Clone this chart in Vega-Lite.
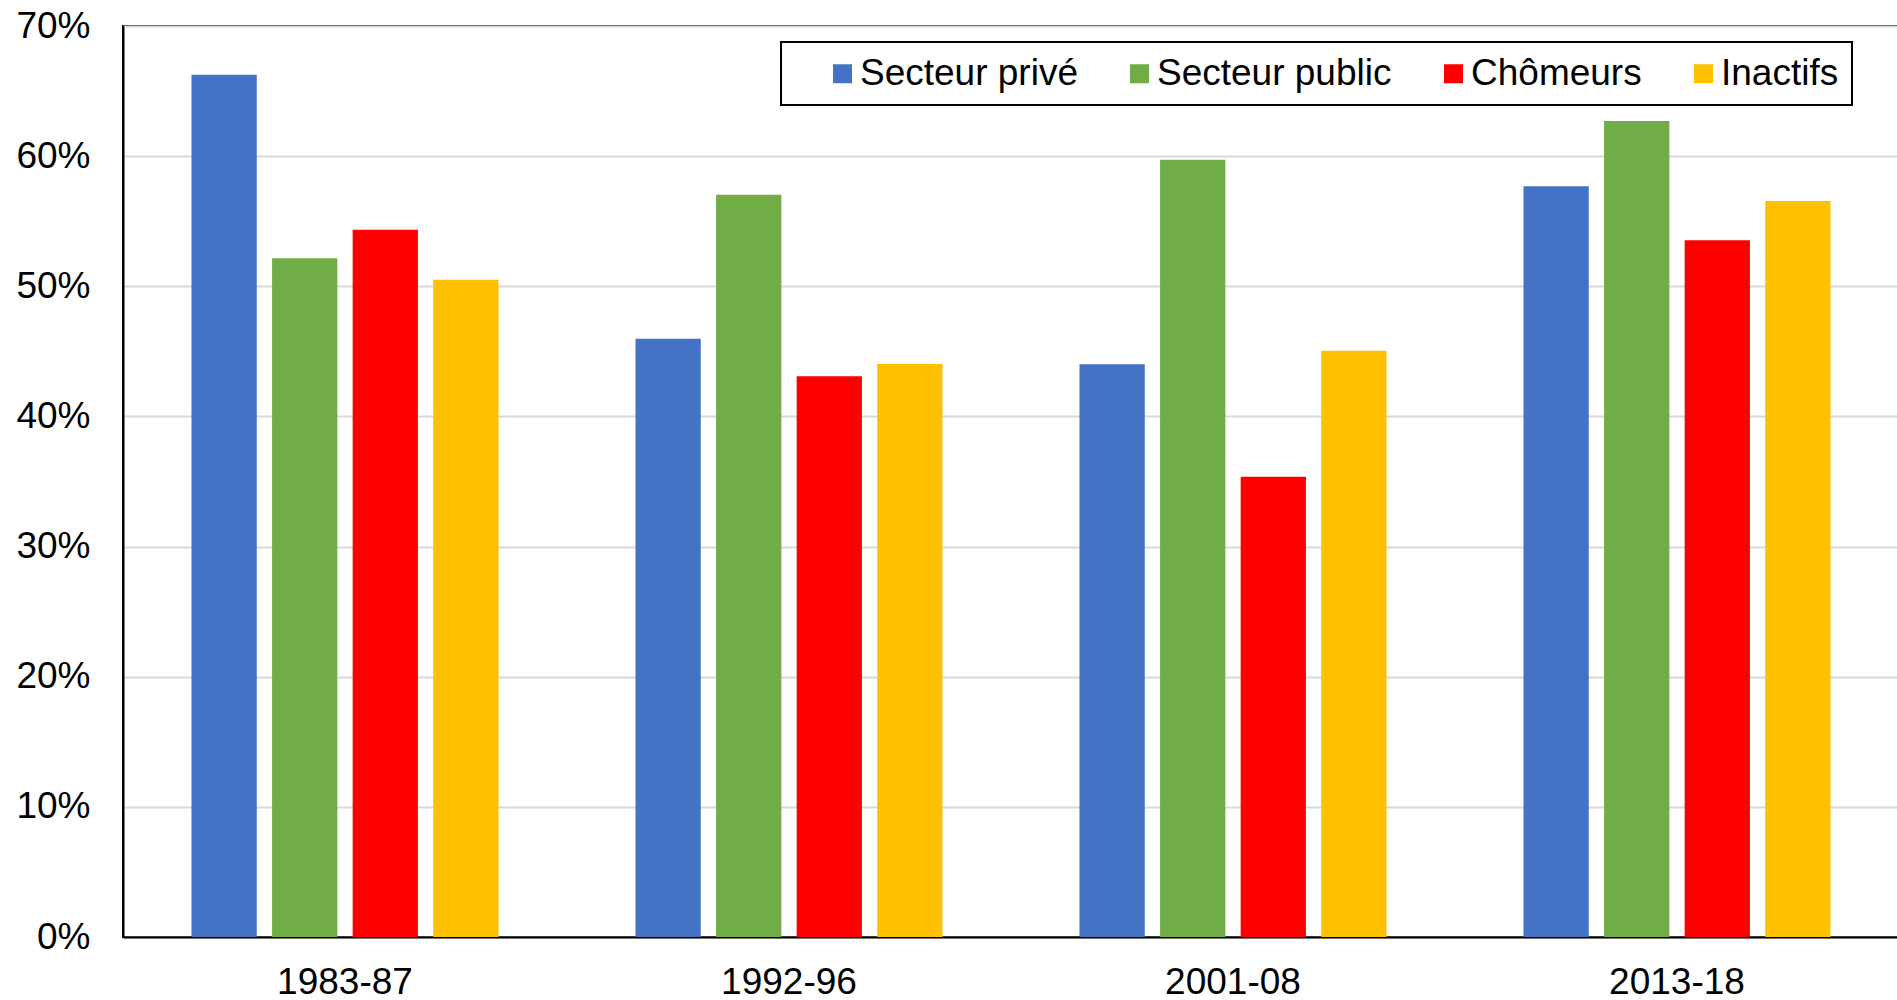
{
  "$schema": "https://vega.github.io/schema/vega-lite/v6.json",
  "width": 1776,
  "height": 911,
  "autosize": {"type": "none"},
  "padding": {"left": 123, "top": 26, "right": 0, "bottom": 63},
  "background": "white",
  "config": {
    "view": {"stroke": "black", "strokeWidth": 2},
    "font": "Liberation Sans",
    "legend": {"strokeWidth": 2}
  },
  "data": {
    "values": [
      {"period": "1983-87", "cat": "Secteur privé", "value": 0.6626},
      {"period": "1983-87", "cat": "Secteur public", "value": 0.5215},
      {"period": "1983-87", "cat": "Chômeurs", "value": 0.5435},
      {"period": "1983-87", "cat": "Inactifs", "value": 0.505},
      {"period": "1992-96", "cat": "Secteur privé", "value": 0.4597},
      {"period": "1992-96", "cat": "Secteur public", "value": 0.5703},
      {"period": "1992-96", "cat": "Chômeurs", "value": 0.4309},
      {"period": "1992-96", "cat": "Inactifs", "value": 0.4402},
      {"period": "2001-08", "cat": "Secteur privé", "value": 0.44},
      {"period": "2001-08", "cat": "Secteur public", "value": 0.5973},
      {"period": "2001-08", "cat": "Chômeurs", "value": 0.3537},
      {"period": "2001-08", "cat": "Inactifs", "value": 0.4504},
      {"period": "2013-18", "cat": "Secteur privé", "value": 0.5768},
      {"period": "2013-18", "cat": "Secteur public", "value": 0.627},
      {"period": "2013-18", "cat": "Chômeurs", "value": 0.5353},
      {"period": "2013-18", "cat": "Inactifs", "value": 0.5655}
    ]
  },
  "mark": {"type": "bar"},
  "encoding": {
    "x": {
      "field": "period",
      "type": "nominal",
      "sort": ["1983-87", "1992-96", "2001-08", "2013-18"],
      "scale": {"paddingInner": 0, "paddingOuter": 0},
      "axis": {
        "title": null,
        "labelAngle": 0,
        "labelFontSize": 37,
        "labelColor": "black",
        "labelPadding": 27,
        "ticks": false,
        "domainColor": "black",
        "domainWidth": 2,
        "grid": false
      }
    },
    "xOffset": {
      "field": "cat",
      "type": "nominal",
      "sort": ["Secteur privé", "Secteur public", "Chômeurs", "Inactifs"],
      "scale": {"paddingInner": 0.19, "paddingOuter": 0.85}
    },
    "y": {
      "field": "value",
      "type": "quantitative",
      "scale": {"domain": [0, 0.7], "nice": false},
      "axis": {
        "title": null,
        "format": ".0%",
        "values": [0, 0.1, 0.2, 0.3, 0.4, 0.5, 0.6, 0.7],
        "labelFontSize": 37,
        "labelColor": "black",
        "labelPadding": 33,
        "ticks": false,
        "domainColor": "black",
        "domainWidth": 2,
        "gridColor": "#d9d9d9",
        "gridWidth": 2
      }
    },
    "color": {
      "field": "cat",
      "type": "nominal",
      "scale": {
        "domain": ["Secteur privé", "Secteur public", "Chômeurs", "Inactifs"],
        "range": ["#4472C4", "#70AD47", "#FF0000", "#FFC000"]
      },
      "legend": {
        "orient": "none",
        "legendX": 658,
        "legendY": 16,
        "direction": "horizontal",
        "title": " ",
        "titleOrient": "left",
        "titleFontSize": 37,
        "titlePadding": 30,
        "padding": 13,
        "strokeColor": "black",
        "fillColor": "white",
        "symbolType": "square",
        "symbolSize": 361,
        "symbolStrokeWidth": 0,
        "symbolOpacity": 1,
        "labelFontSize": 37,
        "labelColor": "black",
        "labelLimit": 500,
        "labelOffset": -1,
        "columnPadding": 43
      }
    }
  }
}
